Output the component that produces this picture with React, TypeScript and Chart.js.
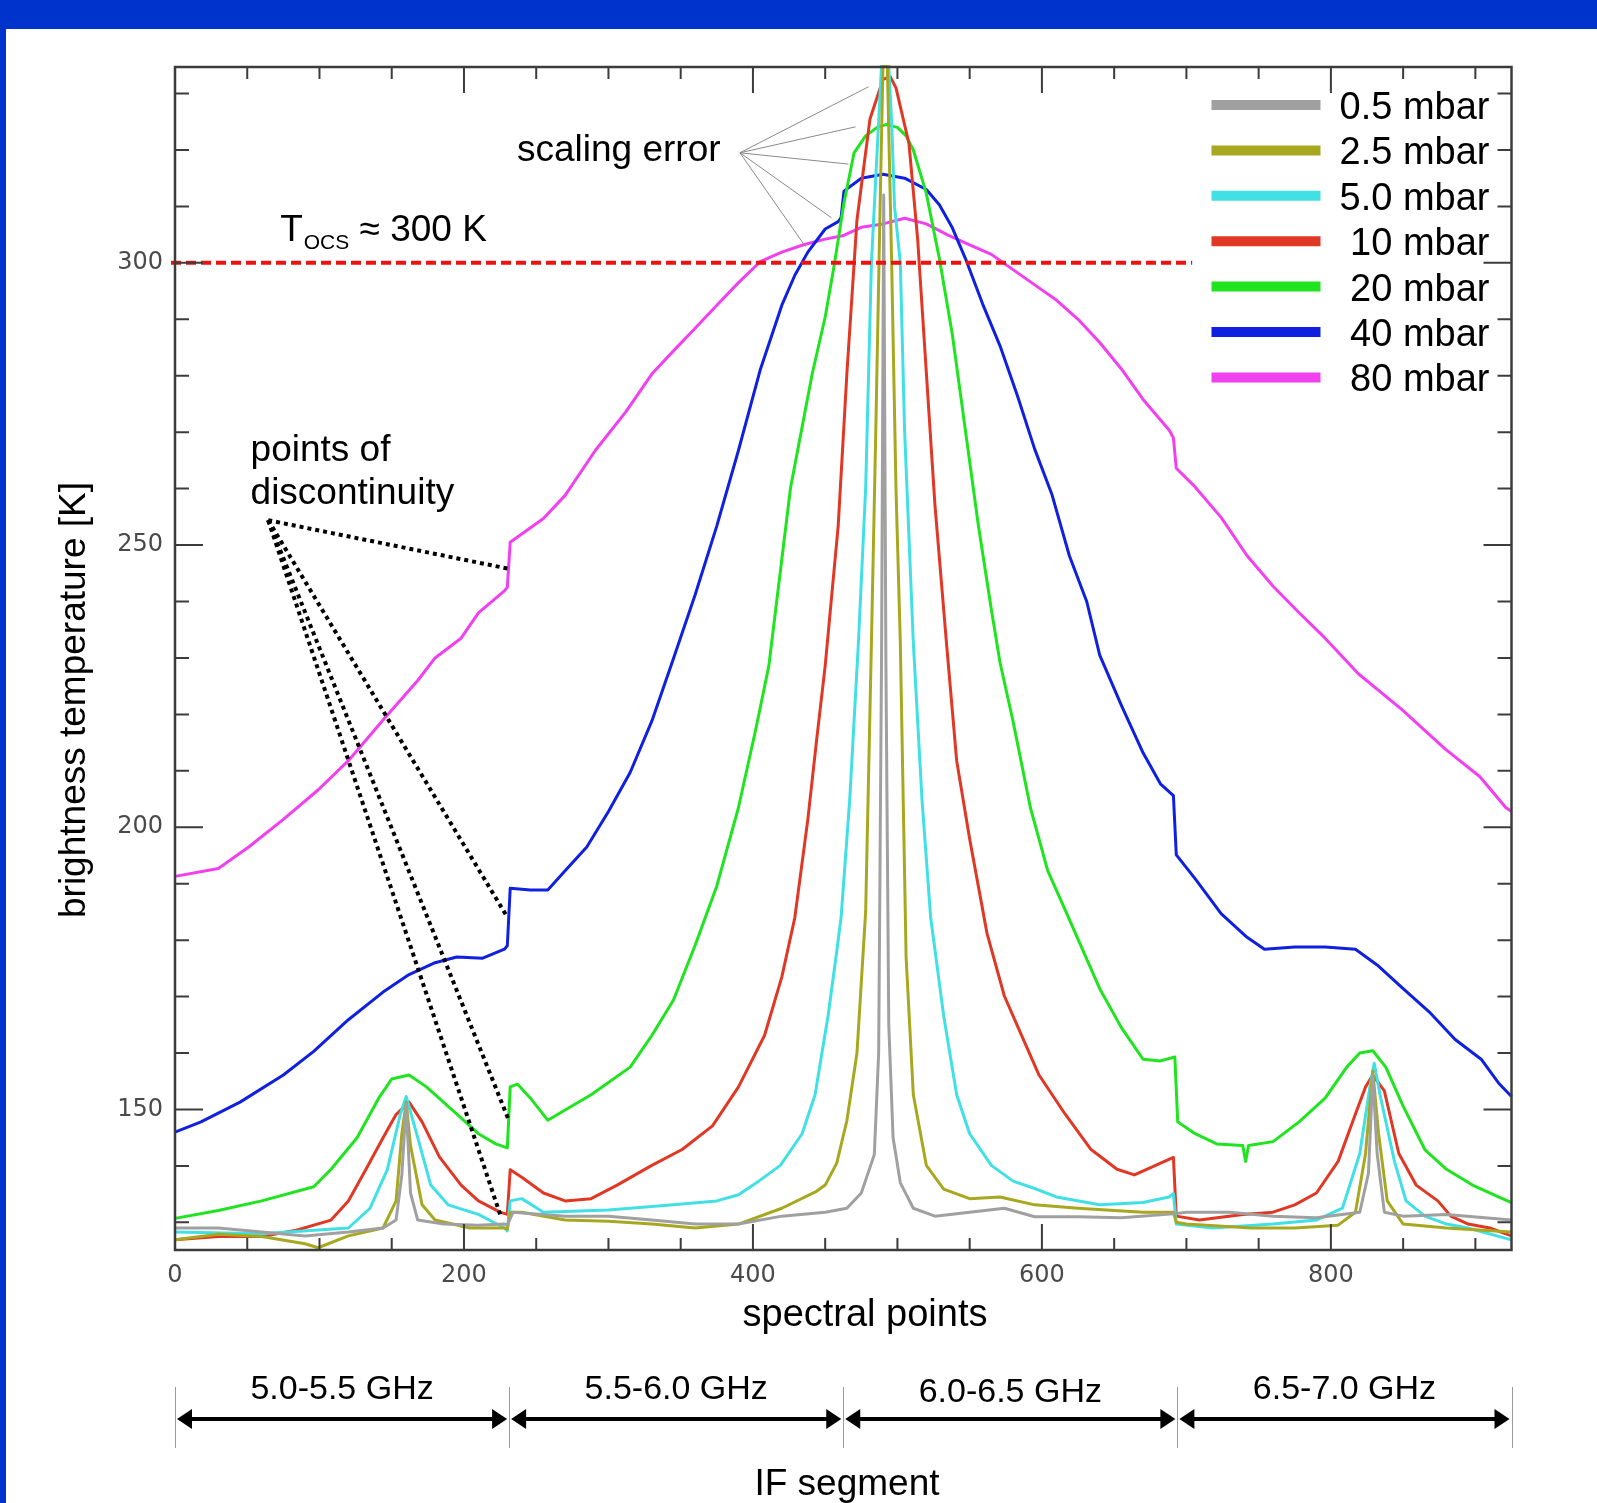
import React, { useEffect, useRef } from 'react';
import { Chart, registerables } from 'chart.js';

Chart.register(...registerables);

// ---------------- data ----------------
const SERIES_LABELS = ['0.5 mbar', '2.5 mbar', '5.0 mbar', '10 mbar', '20 mbar', '40 mbar', '80 mbar'];
const SERIES_COLORS = ['#a0a0a0', '#a8a820', '#40e0e4', '#e03824', '#20e420', '#1020e0', '#f040f0'];

// 0.5 mbar
const X_05 = [0, 30, 60, 90, 120, 144, 153, 157, 160, 163, 168, 186, 210, 228, 230, 234, 270, 300, 330, 360, 390, 420, 450, 465, 475, 484, 487, 489, 490.5, 492, 494, 497, 502, 511, 526, 550, 574, 595, 625, 655, 691, 700, 730, 760, 790, 820, 826, 829, 832, 837, 850, 880, 925];
const T_05 = [129, 129, 128.3, 127.6, 128.3, 129, 130.4, 138.4, 151, 135.2, 130.4, 129.7, 129.5, 129.7, 129.5, 131.8, 131.1, 131.1, 130.4, 129.7, 129.7, 131.1, 131.8, 132.5, 135.2, 142, 160, 230, 312, 230, 165, 145, 137, 132.5, 131.1, 131.8, 132.5, 131, 131, 130.8, 131.5, 131.8, 131.8, 131.1, 130.8, 131.8, 138.7, 156.1, 142.2, 131.8, 131.1, 131.4, 130.4];

// 2.5 mbar
const X_25 = [0, 30, 60, 90, 99, 120, 144, 153, 157, 160, 163, 171, 180, 204, 228, 230, 232, 240, 270, 300, 330, 360, 390, 420, 444, 450, 458, 465, 472, 478, 482, 485, 488, 490, 493, 496, 499, 502, 506, 511, 520, 532, 550, 571, 595, 625, 670, 691, 693, 700, 745, 775, 805, 817, 824, 829, 833, 839, 850, 880, 925];
const T_25 = [126.9, 127.9, 127.5, 126.2, 125.5, 127.6, 129, 133.8, 145.7, 151.3, 143.6, 133.1, 130.4, 129, 129, 128.8, 131.8, 131.8, 130.4, 130.2, 129.7, 129, 129.7, 132.5, 135.5, 136.6, 140.5, 148, 160, 185, 232.7, 270, 310, 335, 335, 300, 260, 232.7, 177, 152.6, 140.1, 135.9, 134.2, 134.5, 133.1, 132.5, 131.8, 131.8, 130, 129.7, 129, 129, 129.5, 131.8, 142.2, 156.8, 145.7, 133.8, 129.7, 129, 128.3];

// 5.0 mbar
const X_50 = [0, 60, 120, 135, 147, 156, 160, 168, 177, 189, 210, 228, 230, 232, 240, 255, 300, 345, 375, 390, 404, 419, 434, 443, 452, 458, 461, 467, 473, 478, 482, 486, 489, 494, 496, 498, 502, 505, 511, 517, 523, 532, 541, 550, 565, 580, 595, 610, 640, 670, 688, 691, 693, 718, 760, 790, 808, 820, 827, 830, 834, 844, 852, 865, 880, 895, 925];
const T_50 = [128.3, 128, 129, 132.5, 139.4, 149.2, 152.3, 145, 136.6, 133.1, 131.4, 129, 128.5, 133.8, 134.2, 131.8, 132.2, 133.1, 133.8, 134.9, 137.3, 140.1, 145.7, 152.6, 166.6, 178, 184, 205, 232.7, 260, 300, 320, 335, 335, 325, 310, 300, 270, 232.7, 204.9, 184, 166.6, 152.6, 145.7, 140.1, 137.3, 136, 134.5, 133.1, 133.5, 134.5, 135.1, 129.7, 129, 129.7, 130.4, 132.5, 142.2, 154, 158.2, 152.6, 140.8, 133.8, 131.1, 129.7, 129, 126.9];

// 10 mbar
const X_10 = [0, 30, 60, 84, 108, 120, 132, 144, 153, 162, 171, 183, 198, 210, 225, 230, 232, 240, 255, 270, 288, 306, 330, 351, 372, 390, 408, 420, 429, 438, 444, 450, 459, 465, 472, 481, 490, 495, 499, 508, 514, 520, 526, 534, 541, 550, 562, 574, 586, 598, 616, 634, 652, 664, 676, 691, 693, 709, 739, 760, 775, 790, 805, 817, 824, 829, 837, 847, 859, 874, 883, 895, 910, 925];
const T_10 = [126.9, 127.5, 127.5, 128.6, 130.4, 133.8, 139.3, 145, 149.1, 151.3, 147.8, 141.6, 136.6, 133.8, 131.8, 131.4, 139.3, 138, 135.2, 133.8, 134.2, 136.6, 140.1, 142.9, 147.1, 154, 163.1, 173.5, 184, 201.4, 215.3, 228.6, 253.4, 280.3, 307.6, 325.5, 332.5, 333, 331, 321.1, 304.2, 280.6, 257, 232.5, 211.8, 197.9, 181.2, 170.1, 163.1, 156.1, 149.2, 142.9, 139.4, 138.4, 139.8, 141.5, 131.1, 130.4, 131.4, 131.8, 133.1, 135.2, 140.8, 149.2, 154, 156.1, 153.3, 142.2, 136.6, 133.8, 131.1, 129.7, 129, 127.6];

// 20 mbar
const X_20 = [0, 30, 60, 96, 108, 126, 141, 150, 162, 174, 192, 210, 222, 230, 232, 237, 246, 258, 270, 288, 315, 330, 345, 360, 375, 390, 402, 411, 426, 441, 450, 456, 463, 470, 478, 486, 492, 500, 506, 511, 520, 529, 538, 547, 556, 565, 571, 580, 592, 604, 616, 628, 640, 655, 670, 682, 692, 694, 706, 721, 739, 741, 743, 760, 778, 796, 811, 820, 829, 838, 850, 865, 880, 898, 916, 925];
const T_20 = [130.7, 132.1, 133.8, 136.3, 139.4, 145, 152, 155.4, 156.1, 154, 149.9, 145.7, 143.9, 143.2, 154, 154.5, 152, 148.1, 149.9, 152.6, 157.5, 163.1, 169.4, 179.1, 189.6, 203.5, 217.4, 228.6, 260.1, 280.3, 290.4, 299.2, 310.6, 319.5, 322.5, 324, 324.5, 324, 322.5, 320, 312.3, 300.8, 287.3, 270.4, 253.5, 238.6, 229.2, 218.8, 203.5, 192.3, 185.4, 178.4, 171.4, 164.5, 158.9, 158.6, 159.3, 147.8, 145.7, 143.9, 143.6, 140.8, 143.6, 144.3, 147.8, 152, 157.5, 160, 160.4, 157.5, 150.6, 142.9, 139.4, 136.6, 134.5, 133.5];

// 40 mbar
const X_40 = [0, 18, 45, 75, 96, 120, 144, 162, 180, 195, 213, 228, 230, 232, 246, 258, 270, 285, 300, 315, 330, 345, 360, 375, 390, 405, 420, 429, 438, 450, 459, 461, 463, 475, 490, 505, 520, 529, 538, 547, 559, 571, 583, 595, 607, 619, 631, 640, 655, 670, 682, 691, 693, 706, 724, 742, 754, 775, 796, 817, 832, 850, 868, 886, 904, 916, 925];
const T_40 = [146, 147.8, 151.3, 156.1, 160.3, 165.9, 170.8, 173.9, 176, 177, 176.8, 178.4, 179, 189.2, 188.9, 188.9, 192.3, 196.5, 202.8, 209.7, 218.8, 229.9, 241.2, 253.4, 266.8, 281, 292.5, 297.8, 301.9, 306, 307.3, 308, 312.7, 315, 315.7, 315, 313, 310.3, 306.2, 300.8, 292.7, 285.3, 276.5, 267, 258.9, 248.1, 240, 230.5, 221.6, 213.2, 207.7, 205.6, 195.1, 190.9, 184.7, 180.5, 178.4, 178.8, 178.8, 178.4, 175.6, 171.4, 167.3, 162.4, 158.9, 154.7, 152.3];

// 80 mbar
const X_80 = [0, 30, 51, 75, 99, 120, 144, 168, 180, 198, 210, 228, 230, 232, 255, 270, 291, 312, 330, 345, 360, 375, 390, 405, 420, 435, 450, 462, 475, 490, 505, 520, 535, 550, 565, 580, 595, 610, 625, 640, 655, 670, 688, 691, 693, 706, 724, 742, 760, 778, 796, 819, 849, 879, 903, 921, 925];
const T_80 = [191.3, 192.7, 196.5, 201.4, 206.6, 211.8, 219, 226, 230, 233.5, 238, 241.9, 242.5, 250.5, 254.7, 258.8, 266.8, 273.6, 280.3, 284.4, 288.4, 292.5, 296.5, 300.2, 301.9, 303.2, 304.2, 304.8, 306.3, 306.9, 307.9, 306.9, 304.9, 303.2, 301.5, 298.8, 296.1, 293.4, 290, 285.9, 281.2, 275.8, 270.4, 269, 263.6, 260.3, 254.9, 248.1, 242.7, 238, 233.5, 227.2, 220.9, 213.9, 209, 203.5, 202.8];

const SERIES_X = [X_05, X_25, X_50, X_10, X_20, X_40, X_80];
const SERIES_T = [T_05, T_25, T_50, T_10, T_20, T_40, T_80];

// axes
const X_RANGE = [0, 925];
const Y_RANGE = [125.1, 334.7];
const X_TICKS = [0, 200, 400, 600, 800];
const X_MINOR_STEP = 50;
const Y_TICKS = [150, 200, 250, 300];
const Y_MINOR_STEP = 10;

// IF segments (in spectral points)
const IF_BOUNDS = [0, 231.25, 462.5, 693.75, 925];
const IF_LABELS = ['5.0-5.5 GHz', '5.5-6.0 GHz', '6.0-6.5 GHz', '6.5-7.0 GHz'];

// annotations (data coordinates)
const T_OCS = 300;
const T_OCS_LINE_END = 704;
const DISC_APEX = [64.5, 254.4];
const DISC_POINTS = [[231, 245.8], [229.5, 184.3], [231, 148.1], [225, 131.4]];
const SCALE_ORIGIN = [391, 319.5];
const SCALE_POINTS = [[480, 331.2], [471, 324.1], [466, 317.5], [454.3, 308], [436.3, 302.9]];

// ---------------- drawing ----------------
const SANS = '"Liberation Sans", Arial, sans-serif';

const figurePlugin = {
  id: 'figure',
  beforeDraw(chart: any) {
    const { ctx, width, height } = chart;
    ctx.save();
    ctx.fillStyle = '#0033cc';
    ctx.fillRect(0, 0, width, height);
    ctx.fillStyle = '#ffffff';
    ctx.fillRect(6, 29, width - 6, height - 29);
    ctx.restore();
  },
  afterDatasetsDraw(chart: any) {
    const { ctx, chartArea: a, scales } = chart;
    const xs = scales.x;
    const ys = scales.y;
    const px = (v: number) => xs.getPixelForValue(v);
    const py = (v: number) => ys.getPixelForValue(v);
    ctx.save();

    // T_OCS reference line
    ctx.strokeStyle = '#f01010';
    ctx.lineWidth = 4;
    ctx.setLineDash([10, 5]);
    ctx.beginPath();
    ctx.moveTo(a.left - 4, py(T_OCS));
    ctx.lineTo(px(T_OCS_LINE_END), py(T_OCS));
    ctx.stroke();
    ctx.setLineDash([]);

    // frame + inward ticks
    ctx.strokeStyle = '#3c3c3c';
    ctx.lineWidth = 2.5;
    ctx.strokeRect(a.left, a.top, a.right - a.left, a.bottom - a.top);
    ctx.lineWidth = 2;
    ctx.beginPath();
    for (let v = X_RANGE[0]; v <= X_RANGE[1]; v += X_MINOR_STEP) {
      const len = X_TICKS.includes(v) ? 26 : 12;
      const x = px(v);
      ctx.moveTo(x, a.bottom);
      ctx.lineTo(x, a.bottom - len);
      ctx.moveTo(x, a.top);
      ctx.lineTo(x, a.top + len);
    }
    for (let v = Math.ceil(Y_RANGE[0] / Y_MINOR_STEP) * Y_MINOR_STEP; v <= Y_RANGE[1]; v += Y_MINOR_STEP) {
      const len = Y_TICKS.includes(v) ? 28 : 14;
      const y = py(v);
      ctx.moveTo(a.left, y);
      ctx.lineTo(a.left + len, y);
      ctx.moveTo(a.right, y);
      ctx.lineTo(a.right - len, y);
    }
    ctx.stroke();

    // scaling error leaders
    ctx.strokeStyle = '#8a8a8a';
    ctx.lineWidth = 1;
    ctx.beginPath();
    SCALE_POINTS.forEach(([x, y]) => {
      ctx.moveTo(px(SCALE_ORIGIN[0]), py(SCALE_ORIGIN[1]));
      ctx.lineTo(px(x), py(y));
    });
    ctx.stroke();

    // discontinuity leaders
    ctx.strokeStyle = '#000000';
    ctx.lineWidth = 4;
    ctx.setLineDash([4, 4]);
    DISC_POINTS.forEach(([x, y]) => {
      ctx.beginPath();
      ctx.moveTo(px(DISC_APEX[0]), py(DISC_APEX[1]));
      ctx.lineTo(px(x), py(y));
      ctx.stroke();
    });
    ctx.setLineDash([]);

    // annotation texts
    ctx.fillStyle = '#000000';
    ctx.textAlign = 'left';
    ctx.textBaseline = 'alphabetic';
    ctx.font = `37px ${SANS}`;
    ctx.fillText('scaling error', px(236.7), py(318));
    ctx.fillText('points of', px(52.3), py(264.9));
    ctx.fillText('discontinuity', px(52.3), py(257.3));
    // T_OCS ≈ 300 K
    let tx = px(72.8);
    const tb = py(303.9);
    ctx.fillText('T', tx, tb);
    tx += ctx.measureText('T').width;
    ctx.font = `21px ${SANS}`;
    ctx.fillText('OCS', tx + 1, tb + 8);
    tx += ctx.measureText('OCS').width + 1;
    ctx.font = `37px ${SANS}`;
    ctx.fillText(' \u2248 300 K', tx, tb);

    // legend
    chart.data.datasets.forEach((ds: any, i: number) => {
      const y = a.top + 38 + i * 45.4;
      ctx.strokeStyle = ds.borderColor;
      ctx.lineWidth = 10;
      ctx.lineCap = 'butt';
      ctx.beginPath();
      ctx.moveTo(a.right - 300, y);
      ctx.lineTo(a.right - 191, y);
      ctx.stroke();
      ctx.fillStyle = '#000000';
      ctx.font = `38px ${SANS}`;
      ctx.textAlign = 'right';
      ctx.fillText(ds.label, a.right - 22, y + 14);
    });

    // axis titles
    ctx.fillStyle = '#000000';
    ctx.font = `38px ${SANS}`;
    ctx.textAlign = 'center';
    ctx.textBaseline = 'alphabetic';
    ctx.fillText('spectral points', 865, 1326);
    ctx.save();
    ctx.font = `37px ${SANS}`;
    ctx.translate(85, 700);
    ctx.rotate(-Math.PI / 2);
    ctx.fillText('brightness temperature [K]', 0, 0);
    ctx.restore();

    // IF segments
    const arrowY = 1419;
    ctx.strokeStyle = '#9a9a9a';
    ctx.lineWidth = 1;
    ctx.beginPath();
    IF_BOUNDS.forEach((b) => {
      const x = Math.round(px(b)) + 0.5;
      ctx.moveTo(x, 1387);
      ctx.lineTo(x, 1448);
    });
    ctx.stroke();
    ctx.fillStyle = '#000000';
    ctx.strokeStyle = '#000000';
    IF_LABELS.forEach((label, i) => {
      const x0 = px(IF_BOUNDS[i]) + 2;
      const x1 = px(IF_BOUNDS[i + 1]) - 2;
      ctx.lineWidth = 4;
      ctx.beginPath();
      ctx.moveTo(x0 + 8, arrowY);
      ctx.lineTo(x1 - 8, arrowY);
      ctx.stroke();
      ctx.beginPath();
      ctx.moveTo(x0, arrowY);
      ctx.lineTo(x0 + 15, arrowY - 10);
      ctx.lineTo(x0 + 15, arrowY + 10);
      ctx.closePath();
      ctx.fill();
      ctx.beginPath();
      ctx.moveTo(x1, arrowY);
      ctx.lineTo(x1 - 15, arrowY - 10);
      ctx.lineTo(x1 - 15, arrowY + 10);
      ctx.closePath();
      ctx.fill();
      ctx.font = `34px ${SANS}`;
      ctx.textAlign = 'center';
      ctx.fillText(label, (x0 + x1) / 2, i === 2 ? 1402 : 1399);
    });
    ctx.font = `37px ${SANS}`;
    ctx.textAlign = 'center';
    ctx.fillText('IF segment', 847, 1495);

    ctx.restore();
  },
};

export default function App() {
  const ref = useRef<HTMLCanvasElement>(null);
  useEffect(() => {
    const datasets = SERIES_LABELS.map((label, i) => ({
      label,
      data: SERIES_X[i].map((x, j) => ({ x, y: SERIES_T[i][j] })),
      borderColor: SERIES_COLORS[i],
      backgroundColor: SERIES_COLORS[i],
      borderWidth: 3,
      pointRadius: 0,
      tension: 0,
      borderJoinStyle: 'round' as const,
      fill: false,
      clip: 2,
    }));
    const chart = new Chart(ref.current as HTMLCanvasElement, {
      type: 'line',
      data: { datasets },
      options: {
        animation: false,
        responsive: false,
        maintainAspectRatio: false,
        devicePixelRatio: 1,
        events: [],
        layout: { padding: { left: 0, right: 85.5, top: 67, bottom: 0 } },
        plugins: { legend: { display: false }, tooltip: { enabled: false } },
        scales: {
          x: {
            type: 'linear',
            min: X_RANGE[0],
            max: X_RANGE[1],
            grid: { display: false, drawTicks: false },
            border: { display: false },
            afterBuildTicks: (scale: any) => {
              scale.ticks = X_TICKS.map((value) => ({ value }));
            },
            afterFit: (scale: any) => {
              scale.height = 253;
            },
            ticks: {
              autoSkip: false,
              maxRotation: 0,
              padding: 11,
              color: '#4a4a4a',
              font: { family: '"DejaVu Sans", sans-serif', size: 24 },
            },
          },
          y: {
            type: 'linear',
            min: Y_RANGE[0],
            max: Y_RANGE[1],
            grid: { display: false, drawTicks: false },
            border: { display: false },
            afterBuildTicks: (scale: any) => {
              scale.ticks = Y_TICKS.map((value) => ({ value }));
            },
            afterFit: (scale: any) => {
              scale.width = 175;
            },
            ticks: {
              padding: 12,
              color: '#4a4a4a',
              font: { family: '"DejaVu Sans", sans-serif', size: 24 },
            },
          },
        },
      },
      plugins: [figurePlugin],
    } as any);
    return () => chart.destroy();
  }, []);
  return (
    <div style={{ position: 'fixed', left: 0, top: 0, width: 1597, height: 1503 }}>
      <canvas ref={ref} width={1597} height={1503} style={{ display: 'block', width: 1597, height: 1503 }} />
    </div>
  );
}
